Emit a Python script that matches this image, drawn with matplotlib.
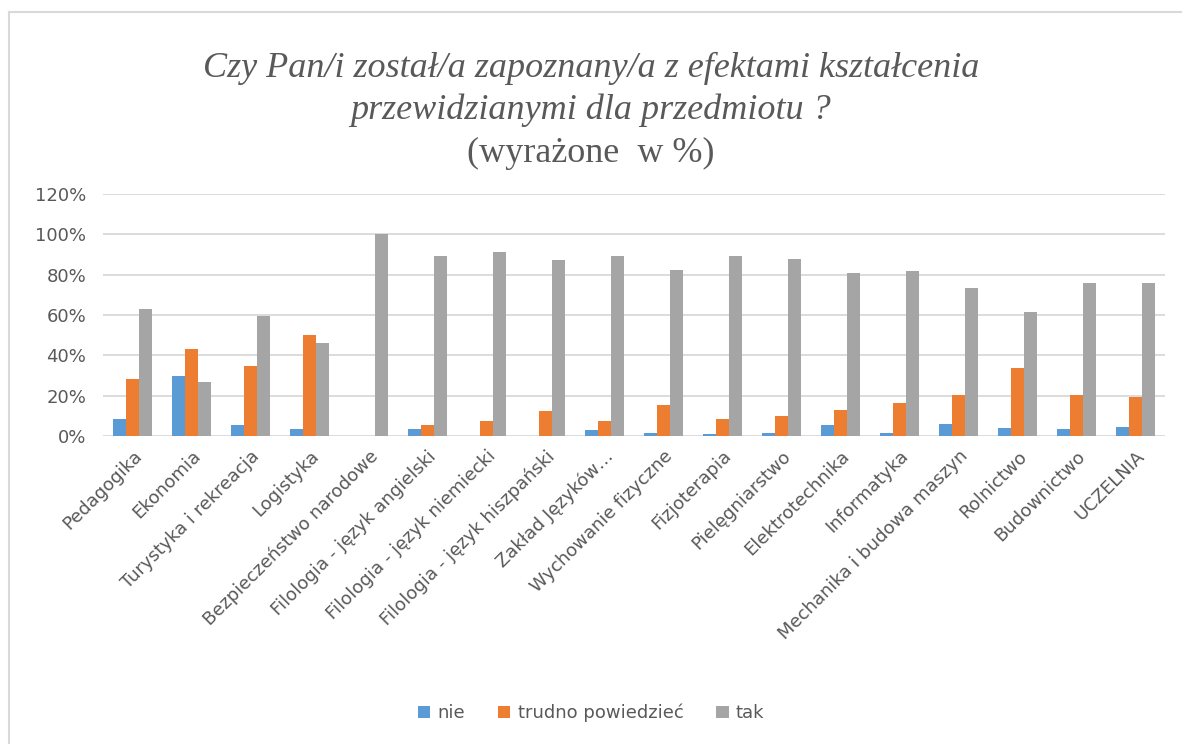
import numpy as np
import matplotlib
matplotlib.use("Agg")
import matplotlib.pyplot as plt
from matplotlib.lines import Line2D

categories = ["Pedagogika", "Ekonomia", "Turystyka i rekreacja", "Logistyka",
              "Bezpieczeństwo narodowe", "Filologia - język angielski",
              "Filologia - język niemiecki", "Filologia - język hiszpański",
              "Zakład Języków…", "Wychowanie fizyczne", "Fizjoterapia",
              "Pielęgniarstwo", "Elektrotechnika", "Informatyka",
              "Mechanika i budowa maszyn", "Rolnictwo", "Budownictwo", "UCZELNIA"]
nie = [8.6, 29.7, 5.5, 3.6, 0, 3.6, 0, 0, 3.0, 1.6, 1.0, 1.6, 5.5, 1.6, 6.1, 4.1, 3.5, 4.6]
trudno = [28.4, 43.0, 34.9, 50.3, 0, 5.5, 7.5, 12.6, 7.5, 15.6, 8.6, 10.0, 13.1, 16.3, 20.1, 33.5, 20.1, 19.4]
tak = [63.0, 26.6, 59.3, 45.9, 100, 89.2, 91.2, 87.4, 89.2, 82.2, 89.2, 87.9, 80.7, 81.6, 73.3, 61.6, 75.7, 75.7]
series_names = ["nie", "trudno powiedzieć", "tak"]
colors = ["#5B9BD5", "#ED7D31", "#A5A5A5"]

text_col = "#595959"
W, H = 1182, 744
fig = plt.figure(figsize=(W / 100, H / 100), dpi=100)
ax = fig.add_axes([103 / W, 1 - 436 / H, (1165 - 103) / W, (436 - 194) / H])

x = np.arange(len(categories))
bw = 0.22
for i, (vals, name, c) in enumerate(zip([nie, trudno, tak], series_names, colors)):
    ax.bar(x + (i - 1) * bw, vals, width=bw, color=c, label=name, zorder=3)

ax.set_xlim(-0.5, len(categories) - 0.5)
ax.set_ylim(0, 120)
ax.set_yticks(range(0, 121, 20))
ax.set_yticklabels([f"{v}%" for v in range(0, 121, 20)])
ax.yaxis.grid(True, color="#d9d9d9", linewidth=1.3, zorder=0)
for s in ax.spines.values():
    s.set_visible(False)
ax.tick_params(axis="both", length=0, colors=text_col, labelsize=13)
ax.tick_params(axis="y", pad=12)
ax.set_xticks(x)
ax.set_xticklabels(categories, rotation=45, ha="right", rotation_mode="anchor")
ax.tick_params(axis="x", pad=8)

title_kw = dict(ha="center", va="center", family="Liberation Serif",
                fontsize=26, color=text_col)
fig.text(0.5, 1 - 68 / H, "Czy Pan/i został/a zapoznany/a z efektami kształcenia",
         style="italic", **title_kw)
fig.text(0.5, 1 - 110 / H, "przewidzianymi dla przedmiotu ?", style="italic", **title_kw)
fig.text(0.5, 1 - 153 / H, "(wyrażone  w %)", **title_kw)

fig.legend(loc="center", bbox_to_anchor=(0.5, 1 - 713 / H), ncol=3, frameon=False,
           fontsize=13, labelcolor=text_col, handlelength=0.7, handleheight=0.7,
           handletextpad=0.4, columnspacing=1.8)

# chart frame: only top and left edges are visible in the crop
fig.lines.append(Line2D([9 / W, 9 / W], [0, 1 - 12 / H], transform=fig.transFigure,
                        color="#d9d9d9", linewidth=1.5))
fig.lines.append(Line2D([9 / W, 1], [1 - 12 / H, 1 - 12 / H], transform=fig.transFigure,
                        color="#d9d9d9", linewidth=1.5))

fig.savefig("out.png", dpi=100)
